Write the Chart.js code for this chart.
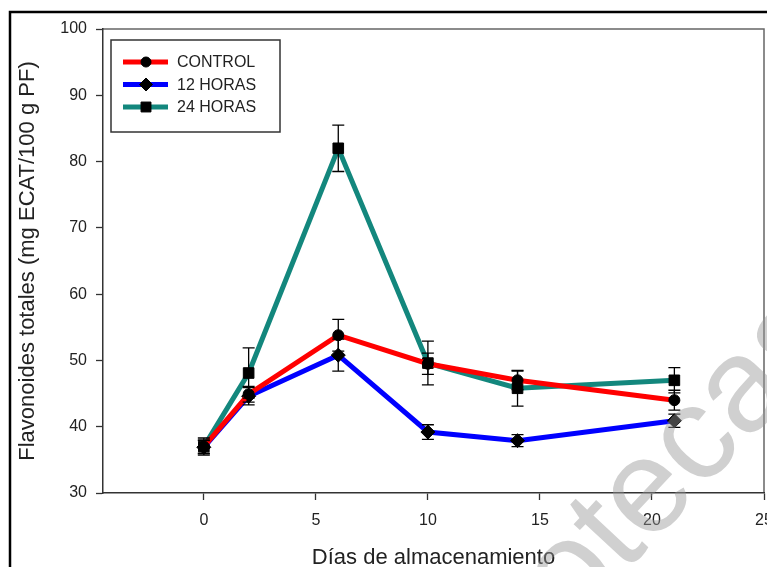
<!DOCTYPE html>
<html>
<head>
<meta charset="utf-8">
<script src="https://cdn.jsdelivr.net/npm/chart.js@4"></script>
<style>
  html, body { margin: 0; padding: 0; background: #fff; }
  canvas { display: block; }
</style>
</head>
<body>
<canvas id="c" width="767" height="567"></canvas>
<script>
// ---- data ----
const days = [0, 2, 6, 10, 14, 21];
const seriesNames = ["CONTROL", "12 HORAS", "24 HORAS"];
const control = [37.0, 44.9, 53.8, 49.5, 47.0, 44.0];
const controlErr = [1.0, 1.2, 2.4, 1.6, 1.4, 1.5];
const horas12 = [36.9, 44.6, 50.8, 39.2, 37.9, 40.9];
const horas12Err = [1.0, 1.3, 2.4, 1.1, 0.9, 1.0];
const horas24 = [37.0, 48.1, 82.0, 49.6, 45.8, 47.0];
const horas24Err = [1.3, 3.8, 3.5, 3.3, 2.7, 1.9];
const xTicks = [0, 5, 10, 15, 20, 25];
const yTicks = [30, 40, 50, 60, 70, 80, 90, 100];
const xTitle = "Días de almacenamiento";
const yTitle = "Flavonoides totales (mg ECAT/100 g PF)";
const watermark = "bibliotecas";

const FONT = "'Liberation Sans', Arial, sans-serif";
const colors = ["#ff0000", "#0000ff", "#13877d"];
const styles = ["circle", "rectRot", "rect"];
const radii = [5.5, 7, 7.5];
const values = [control, horas12, horas24];
const errors = [controlErr, horas12Err, horas24Err];

const datasets = seriesNames.map((name, k) => ({
  label: name,
  data: days.map((d, i) => ({ x: d, y: values[k][i] })),
  borderColor: colors[k],
  backgroundColor: colors[k],
  borderWidth: 5,
  tension: 0,
  pointStyle: styles[k],
  pointRadius: radii[k],
  pointBackgroundColor: "#000",
  pointBorderColor: "#000",
  pointBorderWidth: 1,
  errors: errors[k]
}));

const framePlugin = {
  id: "frame",
  beforeDraw(chart) {
    const ctx = chart.ctx;
    ctx.save();
    ctx.fillStyle = "#fff";
    ctx.fillRect(0, 0, chart.width, chart.height);
    ctx.strokeStyle = "#000";
    ctx.lineWidth = 2.5;
    ctx.beginPath();
    ctx.moveTo(10, 567);
    ctx.lineTo(10, 12);
    ctx.lineTo(767, 12);
    ctx.stroke();
    const a = chart.chartArea;
    ctx.strokeStyle = "#666";
    ctx.lineWidth = 1.5;
    ctx.beginPath();
    ctx.moveTo(a.left, a.top);
    ctx.lineTo(a.right, a.top);
    ctx.lineTo(a.right, a.bottom);
    ctx.stroke();
    ctx.restore();
  },
  afterDatasetsDraw(chart) {
    const ctx = chart.ctx;
    const xs = chart.scales.x, ys = chart.scales.y;
    ctx.save();
    ctx.strokeStyle = "#000";
    ctx.lineWidth = 1.3;
    chart.data.datasets.forEach(ds => {
      ds.data.forEach((p, i) => {
        const e = ds.errors[i];
        const px = xs.getPixelForValue(p.x);
        const t = ys.getPixelForValue(p.y + e);
        const b = ys.getPixelForValue(p.y - e);
        ctx.beginPath();
        ctx.moveTo(px, t); ctx.lineTo(px, b);
        ctx.moveTo(px - 6, t); ctx.lineTo(px + 6, t);
        ctx.moveTo(px - 6, b); ctx.lineTo(px + 6, b);
        ctx.stroke();
      });
    });
    // legend
    const a = chart.chartArea;
    const lx = a.left + 8, ly = a.top + 11, lw = 169, lh = 92;
    ctx.strokeStyle = "#333";
    ctx.lineWidth = 1.5;
    ctx.strokeRect(lx, ly, lw, lh);
    chart.data.datasets.forEach((ds, k) => {
      const cy = ly + 22 + k * 22.5;
      ctx.strokeStyle = ds.borderColor;
      ctx.lineWidth = 5;
      ctx.beginPath();
      ctx.moveTo(lx + 12, cy); ctx.lineTo(lx + 57, cy);
      ctx.stroke();
      ctx.fillStyle = "#000";
      ctx.strokeStyle = "#000";
      ctx.lineWidth = 1;
      Chart.helpers.drawPoint(ctx, {
        pointStyle: ds.pointStyle, radius: ds.pointRadius - 0.5, borderWidth: 1, rotation: 0
      }, lx + 35, cy);
      ctx.fillStyle = "#222";
      ctx.font = "16px " + FONT;
      ctx.textBaseline = "middle";
      ctx.textAlign = "left";
      ctx.fillText(ds.label, lx + 66, cy + 1);
    });
    ctx.restore();
  },
  afterDraw(chart) {
    const ctx = chart.ctx;
    ctx.save();
    ctx.font = "134px " + FONT;
    ctx.fillStyle = "rgba(150,150,150,0.45)";
    ctx.translate(624, 574);
    ctx.rotate(-47 * Math.PI / 180);
    const off = ctx.measureText(watermark.slice(0, 6)).width;
    ctx.textBaseline = "alphabetic";
    ctx.fillText(watermark, -off, 0);
    ctx.restore();
  }
};

new Chart(document.getElementById("c"), {
  type: "line",
  data: { datasets },
  options: {
    responsive: false,
    animation: false,
    devicePixelRatio: 1,
    layout: { autoPadding: false, padding: { top: 29, right: 3, left: 0, bottom: 0 } },
    plugins: { legend: { display: false }, tooltip: { enabled: false } },
    scales: {
      x: {
        type: "linear",
        min: -4.5,
        max: 25,
        afterBuildTicks: s => { s.ticks = xTicks.map(v => ({ value: v })); },
        afterFit: s => { s.height = 74; s.paddingLeft = 0; s.paddingRight = 0; },
        ticks: { color: "#222", font: { family: FONT, size: 16 }, padding: 11, maxRotation: 0, autoSkip: false },
        grid: { display: true, drawOnChartArea: false, drawTicks: true, tickLength: 7, tickColor: "#333", tickWidth: 1.3 },
        border: { display: true, color: "#333", width: 1.5 },
        title: { display: true, text: xTitle, color: "#222", font: { family: FONT, size: 22, lineHeight: 0.85 }, padding: { top: 0, bottom: 0 } }
      },
      y: {
        type: "linear",
        min: 30,
        max: 100,
        afterBuildTicks: s => { s.ticks = yTicks.map(v => ({ value: v })); },
        afterFit: s => { s.width = 103; s.paddingTop = 0; s.paddingBottom = 0; },
        ticks: { color: "#222", font: { family: FONT, size: 16 }, padding: 9 },
        grid: { display: true, drawOnChartArea: false, drawTicks: true, tickLength: 7, tickColor: "#333", tickWidth: 1.3 },
        border: { display: true, color: "#333", width: 1.5 },
        title: { display: true, text: yTitle, color: "#222", font: { family: FONT, size: 22, lineHeight: 1.2 }, padding: { top: 15, bottom: 0 } }
      }
    }
  },
  plugins: [framePlugin]
});
</script>
</body>
</html>
